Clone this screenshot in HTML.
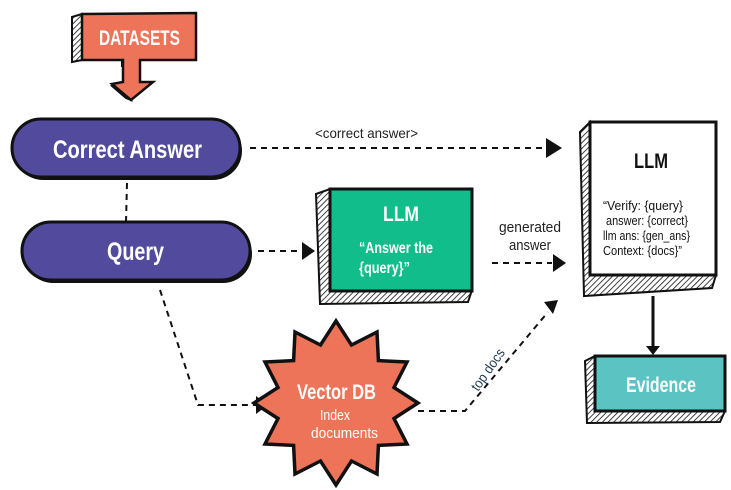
<!DOCTYPE html>
<html><head><meta charset="utf-8"><style>
html,body{margin:0;padding:0;background:#fff;width:731px;height:490px;overflow:hidden}
text{font-family:"Liberation Sans Narrow","Liberation Sans",sans-serif}
</style></head><body>
<svg width="731" height="490" viewBox="0 0 731 490" xmlns="http://www.w3.org/2000/svg">
<defs>
<pattern id="h" width="4" height="4" patternUnits="userSpaceOnUse" patternTransform="rotate(45)">
<rect width="4" height="4" fill="#fff"/><line x1="0" y1="0" x2="0" y2="4" stroke="#111" stroke-width="1.6"/>
</pattern>
</defs>
<g stroke="#111" stroke-width="2" fill="none" stroke-dasharray="6,5">
<line x1="250" y1="148" x2="545" y2="148"/>
<line x1="127" y1="183" x2="126" y2="222"/>
<line x1="258" y1="251" x2="302" y2="251"/>
<line x1="492" y1="263" x2="552" y2="263"/>
<polyline points="160,290 198,405 256,405"/>
<polyline points="418,411 465,411 548,312"/>
</g>
<g fill="#111">
<polygon points="546,138 562,148 546,158"/>
<polygon points="302,242 315,251 302,260"/>
<polygon points="553,254 566,263 553,272"/>
<polygon points="256,396 268,405 256,414"/>
<polygon points="544,302 558,300 553,314"/>
<polygon points="646,346 660,346 653,355"/>
</g>
<line x1="653" y1="296" x2="653" y2="348" stroke="#111" stroke-width="3"/>
<text x="315" y="138" font-size="14" fill="#222" textLength="103" lengthAdjust="spacingAndGlyphs">&lt;correct answer&gt;</text>
<text x="499" y="232" font-size="15" fill="#222" textLength="62" lengthAdjust="spacingAndGlyphs">generated</text>
<text x="509" y="250" font-size="15" fill="#222" textLength="42" lengthAdjust="spacingAndGlyphs">answer</text>
<text x="0" y="0" font-size="14" fill="#1f3a5a" transform="translate(478,392) rotate(-55)" textLength="48" lengthAdjust="spacingAndGlyphs">top docs</text>

<!-- DATASETS -->
<polygon points="72,17 82,14 82,60 72,62" fill="url(#h)" stroke="#111" stroke-width="2"/>
<polygon points="122,60 122,66 126,66 126,82 112,86 126,98 131,100 123,82 123,60" fill="url(#h)" stroke="#111" stroke-width="2"/>
<polygon points="82,14 196,13 196,60 140,60 140,82 153,82 131,100 112,84 123,82 123,60 82,60" fill="#ee7459" stroke="#111" stroke-width="2.5"/>
<text x="99" y="45" font-size="21" font-weight="bold" fill="#fff" textLength="81" lengthAdjust="spacingAndGlyphs">DATASETS</text>

<!-- pills -->
<rect x="14" y="122" width="228" height="58" rx="29" fill="#111"/>
<rect x="12" y="119" width="228" height="58" rx="29" fill="#514a9d" stroke="#111" stroke-width="3"/>
<text x="53" y="158" font-size="25" font-weight="bold" fill="#fff" textLength="149" lengthAdjust="spacingAndGlyphs">Correct Answer</text>
<rect x="24" y="225" width="228" height="58" rx="29" fill="#111"/>
<rect x="22" y="222" width="228" height="58" rx="29" fill="#514a9d" stroke="#111" stroke-width="3"/>
<text x="107" y="260" font-size="25" font-weight="bold" fill="#fff" textLength="57" lengthAdjust="spacingAndGlyphs">Query</text>

<!-- green LLM -->
<polygon points="316,194 330,189 330,290 472,290 468,302 320,304" fill="url(#h)" stroke="#111" stroke-width="2"/>
<rect x="330" y="189" width="142" height="102" fill="#10bd8b" stroke="#111" stroke-width="3"/>
<text x="383" y="221" font-size="21" font-weight="bold" fill="#fff" textLength="36" lengthAdjust="spacingAndGlyphs">LLM</text>
<text x="359" y="253" font-size="16" font-weight="bold" fill="#fff" textLength="74" lengthAdjust="spacingAndGlyphs">“Answer the</text>
<text x="359" y="273" font-size="16" font-weight="bold" fill="#fff" textLength="51" lengthAdjust="spacingAndGlyphs">{query}”</text>

<!-- right LLM -->
<polygon points="580,132 590,122 590,275 716,275 712,288 584,296" fill="url(#h)" stroke="#111" stroke-width="2"/>
<rect x="590" y="122" width="126" height="153" fill="#fff" stroke="#111" stroke-width="3"/>
<text x="634" y="168" font-size="21" font-weight="bold" fill="#111" textLength="34" lengthAdjust="spacingAndGlyphs">LLM</text>
<g font-size="13" fill="#111">
<text x="603" y="210" textLength="80" lengthAdjust="spacingAndGlyphs">“Verify: {query}</text>
<text x="606" y="225" textLength="82" lengthAdjust="spacingAndGlyphs">answer: {correct}</text>
<text x="603" y="240" textLength="87" lengthAdjust="spacingAndGlyphs">llm ans: {gen_ans}</text>
<text x="603" y="255" textLength="79" lengthAdjust="spacingAndGlyphs">Context: {docs}”</text>
</g>

<!-- Evidence -->
<polygon points="585,361 595,356 595,411 725,411 720,422 587,423" fill="url(#h)" stroke="#111" stroke-width="2"/>
<rect x="595" y="356" width="130" height="55" fill="#5bc4c2" stroke="#111" stroke-width="3"/>
<text x="626" y="392" font-size="21" font-weight="bold" fill="#fff" textLength="70" lengthAdjust="spacingAndGlyphs">Evidence</text>

<!-- star -->
<polygon points="336,321 351.5,345 377,332 378.4,360.6 407,362 394,387.5 418,403 394,418.5 407,444 378.4,445.4 377,474 351.5,461 336,485 320.5,461 295,474 293.6,445.4 265,444 278,418.5 254,403 278,387.5 265,362 293.6,360.6 295,332 320.5,345" fill="#ee7459" stroke="#111" stroke-width="3.5" stroke-linejoin="miter"/>
<text x="297" y="399" font-size="21" font-weight="bold" fill="#fff" textLength="79" lengthAdjust="spacingAndGlyphs">Vector DB</text>
<text x="320" y="420" font-size="15" fill="#fff" textLength="30" lengthAdjust="spacingAndGlyphs">Index</text>
<text x="311" y="438" font-size="15" fill="#fff" textLength="67" lengthAdjust="spacingAndGlyphs">documents</text>
</svg>
</body></html>
